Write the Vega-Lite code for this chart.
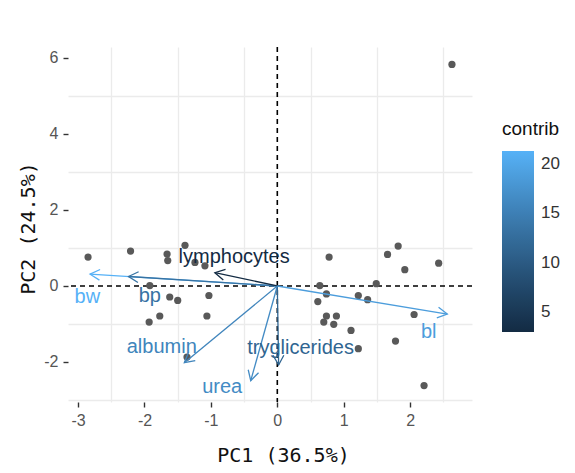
{
  "$schema": "https://vega.github.io/schema/vega-lite/v6.json",
  "autosize": "none",
  "padding": {"left": 68, "top": 47, "right": 103, "bottom": 71},
  "width": 404,
  "height": 355,
  "background": "white",
  "config": {
    "view": {"stroke": null},
    "axis": {
      "domain": false,
      "gridColor": "#EBEBEB",
      "gridWidth": 1.3,
      "tickColor": "#333333",
      "tickWidth": 1.4,
      "tickSize": 5,
      "labelFont": "Liberation Sans",
      "labelFontSize": 16,
      "labelColor": "#555555",
      "titleFont": "DejaVu Sans Mono",
      "titleFontSize": 20,
      "titleFontWeight": "normal",
      "titleColor": "#111111"
    },
    "legend": {
      "titleFont": "Liberation Sans",
      "titleFontSize": 19,
      "titleFontWeight": "normal",
      "titleColor": "#111111",
      "labelFont": "Liberation Sans",
      "labelFontSize": 17,
      "labelColor": "#333333"
    }
  },
  "datasets": {
    "individuals": [
      {"PC1": -2.85, "PC2": 0.76},
      {"PC1": -2.21, "PC2": 0.92},
      {"PC1": -1.66, "PC2": 0.84},
      {"PC1": -1.65, "PC2": 0.67},
      {"PC1": -1.39, "PC2": 1.07},
      {"PC1": -1.24, "PC2": 0.62},
      {"PC1": -1.09, "PC2": 0.53},
      {"PC1": -1.92, "PC2": 0.01},
      {"PC1": -1.62, "PC2": -0.29},
      {"PC1": -1.50, "PC2": -0.38},
      {"PC1": -1.03, "PC2": -0.25},
      {"PC1": -1.77, "PC2": -0.79},
      {"PC1": -1.93, "PC2": -0.95},
      {"PC1": -1.06, "PC2": -0.79},
      {"PC1": -1.36, "PC2": -1.87},
      {"PC1": 0.78, "PC2": 0.76},
      {"PC1": 1.66, "PC2": 0.83},
      {"PC1": 1.82, "PC2": 1.05},
      {"PC1": 1.92, "PC2": 0.43},
      {"PC1": 2.43, "PC2": 0.60},
      {"PC1": 0.64, "PC2": 0.01},
      {"PC1": 0.74, "PC2": -0.21},
      {"PC1": 0.61, "PC2": -0.41},
      {"PC1": 1.49, "PC2": 0.06},
      {"PC1": 1.22, "PC2": -0.25},
      {"PC1": 1.36, "PC2": -0.36},
      {"PC1": 2.06, "PC2": -0.75},
      {"PC1": 0.74, "PC2": -0.79},
      {"PC1": 0.89, "PC2": -0.79},
      {"PC1": 0.70, "PC2": -0.95},
      {"PC1": 0.85, "PC2": -1.01},
      {"PC1": 1.11, "PC2": -1.17},
      {"PC1": 1.22, "PC2": -1.65},
      {"PC1": 1.78, "PC2": -1.45},
      {"PC1": 2.21, "PC2": -2.62},
      {"PC1": 2.63, "PC2": 5.83}
    ],
    "variables": [
      {"name": "bw", "PC1": -2.82, "PC2": 0.31, "contrib": 21.3, "labelPC1": -2.86, "labelPC2": -0.28},
      {"name": "bp", "PC1": -2.24, "PC2": 0.25, "contrib": 13.3, "labelPC1": -1.92, "labelPC2": -0.26},
      {"name": "lymphocytes", "PC1": -0.94, "PC2": 0.35, "contrib": 3.0, "labelPC1": -0.65, "labelPC2": 0.77},
      {"name": "albumin", "PC1": -1.40, "PC2": -2.02, "contrib": 15.7, "labelPC1": -1.74, "labelPC2": -1.60},
      {"name": "urea", "PC1": -0.40, "PC2": -2.49, "contrib": 16.5, "labelPC1": -0.83, "labelPC2": -2.65},
      {"name": "tryglicerides", "PC1": 0.02, "PC2": -2.08, "contrib": 11.4, "labelPC1": 0.35, "labelPC2": -1.64},
      {"name": "bl", "PC1": 2.56, "PC2": -0.74, "contrib": 18.8, "labelPC1": 2.28, "labelPC2": -1.20}
    ]
  },
  "resolve": {"axis": {"x": "independent", "y": "independent"}},
  "layer": [
    {
      "data": {"values": [{}]},
      "layer": [
        {
          "mark": {"type": "rule", "color": "black", "strokeWidth": 1.6, "strokeDash": [5, 4]},
          "encoding": {
            "x": {
              "datum": 0, "type": "quantitative",
              "axis": {"values": [-2.5, -1.5, -0.5, 0.5, 1.5, 2.5], "grid": true, "labels": false,
                       "ticks": false, "domain": false, "title": null, "orient": "bottom"}
            }
          }
        },
        {
          "mark": {"type": "rule", "color": "black", "strokeWidth": 1.6, "strokeDash": [5, 4]},
          "encoding": {
            "y": {
              "datum": 0, "type": "quantitative",
              "axis": {"values": [-3, -1, 1, 3, 5], "grid": true, "labels": false,
                       "ticks": false, "domain": false, "title": null, "orient": "left"}
            }
          }
        }
      ]
    },
    {
      "layer": [
        {
          "data": {"name": "individuals"},
          "mark": {"type": "point", "filled": true, "size": 52, "color": "#595959", "opacity": 1},
          "encoding": {
            "x": {
              "field": "PC1", "type": "quantitative",
              "scale": {"domain": [-3.152, 2.932], "nice": false, "zero": false},
              "axis": {
                "title": "PC1 (36.5%)",
                "orient": "bottom",
                "values": [-3, -2, -1, 0, 1, 2],
                "labelExpr": "'' + datum.value",
                "labelPadding": 5,
                "titleX": 215,
                "titleY": 53,
                "titleAlign": "center",
                "titleBaseline": "middle"
              }
            },
            "y": {
              "field": "PC2", "type": "quantitative",
              "scale": {"domain": [-3.053, 6.289], "nice": false, "zero": false},
              "axis": {
                "title": "PC2 (24.5%)",
                "orient": "left",
                "values": [-2, 0, 2, 4, 6],
                "labelExpr": "'' + datum.value",
                "labelPadding": 5,
                "titleX": -40,
                "titleY": 181,
                "titleAngle": -90,
                "titleAlign": "center",
                "titleBaseline": "middle"
              }
            }
          }
        },
        {
          "data": {"name": "variables"},
          "mark": {"type": "rule", "strokeWidth": 1.3},
          "encoding": {
            "x": {"field": "PC1", "type": "quantitative"},
            "y": {"field": "PC2", "type": "quantitative"},
            "x2": {"datum": 0},
            "y2": {"datum": 0},
            "color": {
              "field": "contrib", "type": "quantitative",
              "scale": {"range": ["#132B43", "#56B1F7"], "interpolate": "lab", "zero": false, "nice": false},
              "legend": {
                "type": "gradient", "title": "contrib", "orient": "none", "direction": "vertical",
                "legendX": 434, "legendY": 73, "titlePadding": 12,
                "gradientLength": 181, "gradientThickness": 32, "gradientStrokeWidth": 0,
                "labelOffset": 7, "values": [5, 10, 15, 20]
              }
            }
          }
        },
        {
          "data": {"name": "variables"},
          "transform": [
            {"calculate": "atan2(-datum.PC2 * 38, datum.PC1 * 66.45) * 180 / PI", "as": "heading"}
          ],
          "mark": {"type": "point", "filled": false, "strokeWidth": 1.3, "opacity": 1,
                   "shape": "M-1,-0.55L0,0L-1,0.55", "size": 380},
          "encoding": {
            "x": {"field": "PC1", "type": "quantitative"},
            "y": {"field": "PC2", "type": "quantitative"},
            "angle": {"field": "heading", "type": "quantitative", "scale": null},
            "color": {"field": "contrib", "type": "quantitative"}
          }
        },
        {
          "data": {"name": "variables"},
          "mark": {"type": "text", "font": "Liberation Sans", "fontSize": 20, "align": "center", "baseline": "middle"},
          "encoding": {
            "x": {"field": "labelPC1", "type": "quantitative"},
            "y": {"field": "labelPC2", "type": "quantitative"},
            "text": {"field": "name"},
            "fill": {
              "field": "contrib", "type": "quantitative",
              "scale": {"range": ["#132B43", "#56B1F7"], "interpolate": "lab", "zero": false, "nice": false},
              "legend": null
            }
          }
        }
      ]
    }
  ]
}
